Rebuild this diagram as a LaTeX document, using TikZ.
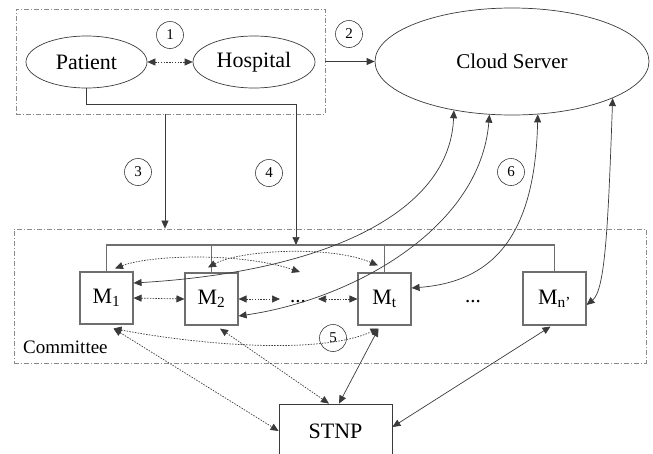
\documentclass[tikz,border=0pt]{standalone}
\usepackage{fontspec}
\setmainfont{Liberation Serif}
\usetikzlibrary{arrows.meta,calc,shapes.geometric}
\definecolor{ln}{HTML}{3A3A3A}
\definecolor{bx}{HTML}{6E6E6E}
\definecolor{dd}{HTML}{8A8A8A}
\newcommand\myfs[1]{\rmfamily\fontsize{#1}{#1}\selectfont}
\begin{document}
\begin{tikzpicture}[x=1pt,y=-1pt,
  conn/.style={draw=ln, line width=0.7pt},
  arw/.style={conn, -{Triangle[length=8pt,width=7pt]}},
  darw/.style={conn, {Triangle[length=8pt,width=7pt]}-{Triangle[length=8pt,width=7pt]}},
  dotl/.style={dash pattern=on 1.5pt off 1.3pt},
  ddbox/.style={draw=dd, line width=0.8pt, dash pattern=on 5pt off 2pt on 1pt off 2pt, rectangle, inner sep=0pt},
  ell/.style={ellipse, draw=ln, line width=0.7pt, inner sep=0pt, font=\myfs{22}},
  mbox/.style={rectangle, draw=bx, line width=1.1pt, minimum width=53pt, minimum height=52pt, inner sep=0pt, font=\myfs{22}},
  num/.style={circle, draw=ln, line width=0.6pt, minimum size=27pt, inner sep=0pt, font=\myfs{15}},
  busl/.style={draw=bx, line width=1.1pt}]
\useasboundingbox (0,0) rectangle (653,453);
% groups
\node[ddbox, minimum width=309pt, minimum height=105pt] (top) at (170.5,61.5) {};
\node[ddbox, minimum width=632pt, minimum height=134pt] (comm) at (330,296) {};
\node[font=\myfs{19}, anchor=base west, inner sep=0pt] (commlbl) at (23,353) {Committee};
% ellipses
\node[ell, minimum width=121pt, minimum height=52pt] (patient) at (86.5,62) {Patient};
\node[ell, minimum width=122pt, minimum height=52pt] (hospital) at (254,62) {Hospital};
\node[ell, minimum width=274pt, minimum height=107pt, font=\myfs{21}] (cloud) at (512,61.5) {Cloud Server};
% members
\node[mbox] (m1) at (106.5,298) {M\textsubscript{1}};
\node[mbox] (m2) at (211.5,299) {M\textsubscript{2}};
\node[mbox] (mt) at (384.5,299) {M\textsubscript{t}};
\node[mbox, minimum width=63pt, minimum height=53pt] (mn) at (554.5,298.5) {M\textsubscript{n’}};
\node[font=\myfs{21}, inner sep=0pt] (dots1) at (298,302) {...};
\node[font=\myfs{21}, inner sep=0pt] (dots2) at (473,302) {...};
\node[rectangle, draw=ln, line width=0.8pt, minimum width=113pt, minimum height=54pt, inner sep=0pt, font=\myfs{22}] (stnp) at (335.5,431) {STNP};
% numbers
\node[num] (n1) at (170,35) {1};
\node[num] (n2) at (349,34) {2};
\node[num] (n3) at (138,172) {3};
\node[num] (n4) at (269,173) {4};
\node[num] (n5) at (333,338) {5};
\node[num] (n6) at (511,172) {6};
% helper coordinates
\coordinate (c3) at (165,0);
\coordinate (c4) at (296,104);
\coordinate (busy) at (0,245);
\coordinate (dA) at (300,272);
\coordinate (d1w) at (280,299);
\coordinate (d1e) at (318,299);
% top connectors
\draw[darw, dotl] (patient.east) -- (hospital.west);
\draw[arw] (top.east) -- (cloud.west);
\draw[arw] (top.south -| c3) -- (comm.north -| c3);
\draw[arw] (patient.south) |- (c4) -- (c4 |- busy);
% bus
\draw[busl] (m1.north) -- (m1.north |- busy) -- (mn.north |- busy) -- (mn.north);
\draw[busl] (m2.north) -- (m2.north |- busy);
\draw[busl] (mt.north) -- (mt.north |- busy);
% committee dotted
\draw[darw, dotl] ($(m1.north)+(8.5,-3)$) .. controls (150,255) and (240,252) .. (dA);
\draw[darw, dotl] ($(m2.north)+(-3.5,-5)$) .. controls (240,250) and (330,245) .. ($(mt.north)+(-6.5,-7)$);
\draw[darw, dotl] (m1.east) -- (m2.west);
\draw[darw, dotl] (m2.east) -- (d1w);
\draw[darw, dotl] (d1e) -- (mt.west);
\draw[darw, dotl] ($(m1.south)+(7,4)$) .. controls (200,345) and (320,355) .. ($(mt.south)+(-6,3)$);
% to STNP
\draw[darw, dotl] ($(m1.south)+(7,4)$) -- (stnp.west);
\draw[darw, dotl] ($(m2.south)+(8.5,3)$) -- ($(stnp.north)+(-6.5,0)$);
\draw[darw] ($(mt.south)+(-6,3)$) -- ($(stnp.north)+(3.5,0)$);
\draw[darw] ($(mn.south)+(-4,1)$) -- ($(stnp.east)+(0,-4)$);
% cloud curves
\draw[darw] (cloud.-140) .. controls (450,215) and (320,272) .. ($(m1.east)+(0,-15)$);
\draw[darw] (cloud.-113) .. controls (480,230) and (350,300) .. ($(m2.east)+(0,17)$);
\draw[darw] (cloud.-64.5) .. controls (535,240) and (490,282) .. ($(mt.east)+(0,-11)$);
\draw[darw] (cloud.-20.5) .. controls (608,230) and (605,290) .. ($(mn.east)+(0,6.5)$);
\end{tikzpicture}
\end{document}
